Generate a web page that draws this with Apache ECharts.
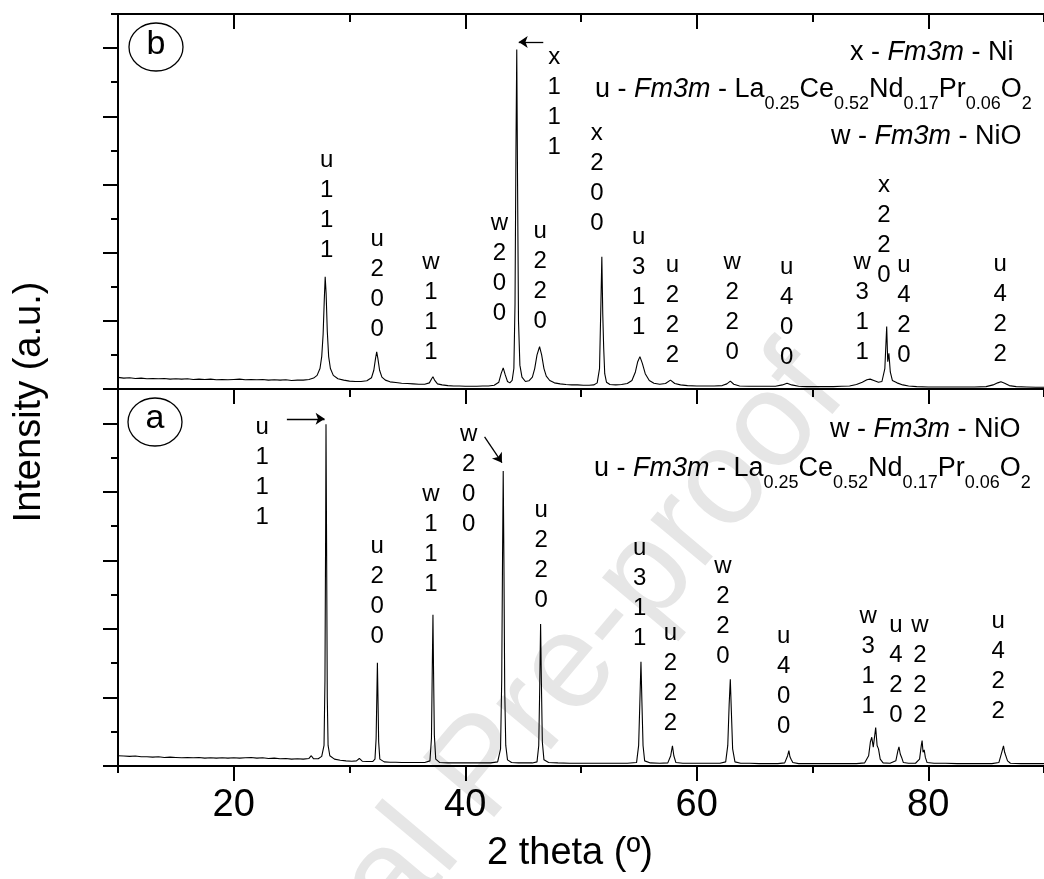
<!DOCTYPE html>
<html>
<head>
<meta charset="utf-8">
<script src="https://cdn.jsdelivr.net/npm/echarts@6.0.0/dist/echarts.min.js"></script>
<style>html,body{margin:0;padding:0;background:#fff;}#c{width:1044px;height:879px;}</style>
</head>
<body>
<div id="c"></div>
<script>
// ---------------- data ----------------
// panel (b): [2theta, intensity a.u.]
const patternB = [
[10.0,0.34],[10.5,0.32],[11.0,0.33],[11.5,0.31],[12.0,0.32],[12.5,0.30],[13.0,0.31],[13.5,0.30],[14.0,0.31],[14.5,0.29],[15.0,0.30],[15.5,0.29],[16.0,0.30],[16.5,0.28],[17.0,0.29],[17.5,0.28],[18.0,0.29],[18.5,0.27],[19.0,0.28],[19.5,0.27],[20.0,0.28],[20.5,0.29],[21.0,0.27],[21.5,0.28],[22.0,0.27],[22.5,0.28],[23.0,0.26],[23.5,0.27],[24.0,0.26],[24.5,0.27],[25.0,0.25],[25.5,0.26],[26.0,0.26],[26.5,0.28],[26.9,0.32],[27.2,0.40],[27.45,0.60],[27.6,0.95],[27.72,1.6],[27.82,2.6],[27.9,3.29],[27.98,2.8],[28.08,1.7],[28.2,0.95],[28.35,0.6],[28.6,0.40],[29.0,0.30],[29.5,0.26],[30.0,0.23],[30.5,0.22],[31.0,0.22],[31.5,0.24],[31.9,0.33],[32.1,0.55],[32.25,0.9],[32.35,1.09],[32.45,0.9],[32.6,0.55],[32.8,0.35],[33.1,0.26],[33.5,0.21],[34.0,0.19],[34.5,0.17],[35.0,0.16],[35.5,0.15],[36.0,0.14],[36.5,0.14],[36.9,0.18],[37.1,0.30],[37.21,0.36],[37.35,0.26],[37.6,0.15],[38.0,0.12],[38.5,0.10],[39.0,0.09],[39.5,0.09],[40.0,0.08],[40.5,0.08],[41.0,0.08],[41.5,0.09],[42.0,0.09],[42.5,0.11],[42.9,0.20],[43.1,0.45],[43.28,0.62],[43.45,0.42],[43.65,0.22],[43.85,0.18],[44.05,0.25],[44.2,0.6],[44.3,2.5],[44.38,7.0],[44.45,9.96],[44.52,6.0],[44.6,2.0],[44.72,0.7],[44.9,0.35],[45.2,0.22],[45.5,0.24],[45.8,0.35],[46.0,0.6],[46.2,1.0],[46.42,1.24],[46.6,1.0],[46.8,0.6],[47.0,0.38],[47.3,0.25],[47.7,0.18],[48.2,0.15],[48.7,0.13],[49.2,0.12],[49.7,0.12],[50.2,0.11],[50.7,0.11],[51.1,0.12],[51.4,0.18],[51.6,0.6],[51.72,2.5],[51.8,3.88],[51.88,2.2],[51.96,1.2],[52.05,0.45],[52.2,0.2],[52.5,0.13],[53.0,0.12],[53.5,0.13],[54.0,0.16],[54.4,0.25],[54.7,0.5],[54.9,0.8],[55.09,0.95],[55.3,0.75],[55.55,0.45],[55.9,0.25],[56.3,0.17],[56.8,0.14],[57.3,0.16],[57.73,0.26],[58.1,0.16],[58.6,0.12],[59.2,0.10],[60.0,0.09],[60.8,0.09],[61.5,0.09],[62.2,0.10],[62.6,0.15],[62.9,0.23],[63.2,0.14],[63.7,0.09],[64.5,0.08],[65.3,0.08],[66.0,0.08],[66.8,0.08],[67.4,0.12],[67.8,0.17],[68.2,0.12],[68.8,0.08],[69.5,0.07],[70.3,0.07],[71.0,0.07],[71.8,0.07],[72.5,0.08],[73.2,0.09],[73.8,0.13],[74.3,0.2],[74.7,0.27],[74.98,0.29],[75.3,0.25],[75.7,0.2],[76.0,0.22],[76.25,0.6],[76.41,1.83],[76.5,0.8],[76.6,1.05],[76.72,0.5],[76.9,0.25],[77.3,0.18],[77.8,0.12],[78.3,0.09],[79.0,0.07],[80.0,0.06],[81.0,0.06],[82.0,0.06],[83.0,0.06],[84.0,0.06],[85.0,0.07],[85.6,0.12],[86.0,0.18],[86.28,0.21],[86.6,0.17],[87.0,0.1],[87.6,0.07],[88.5,0.06],[89.3,0.05],[90.0,0.05]
];
// panel (a)
const patternA = [
[10.0,0.30],[10.5,0.29],[11.0,0.28],[11.5,0.29],[12.0,0.27],[12.5,0.27],[13.0,0.26],[13.5,0.27],[14.0,0.25],[14.5,0.26],[15.0,0.25],[15.5,0.24],[16.0,0.25],[16.5,0.24],[17.0,0.25],[17.5,0.23],[18.0,0.24],[18.5,0.23],[19.0,0.24],[19.5,0.23],[20.0,0.24],[20.5,0.23],[21.0,0.24],[21.5,0.25],[22.0,0.23],[22.5,0.24],[23.0,0.22],[23.5,0.23],[24.0,0.21],[24.5,0.22],[25.0,0.20],[25.5,0.21],[26.0,0.20],[26.5,0.22],[26.7,0.30],[26.9,0.21],[27.3,0.21],[27.6,0.28],[27.8,0.6],[27.88,2.5],[27.94,7.0],[27.97,9.97],[28.02,6.5],[28.08,2.0],[28.15,0.6],[28.3,0.3],[28.7,0.2],[29.2,0.17],[29.7,0.15],[30.2,0.14],[30.6,0.15],[30.85,0.22],[31.1,0.14],[31.5,0.13],[32.0,0.13],[32.2,0.2],[32.3,0.8],[32.36,2.0],[32.41,3.01],[32.46,2.0],[32.52,0.7],[32.62,0.2],[33.0,0.12],[33.5,0.11],[34.0,0.11],[34.5,0.10],[35.0,0.10],[35.5,0.10],[36.0,0.10],[36.5,0.10],[36.95,0.15],[37.08,0.8],[37.15,2.8],[37.21,4.41],[37.26,2.8],[37.33,0.9],[37.45,0.2],[37.8,0.1],[38.5,0.09],[39.2,0.09],[40.0,0.09],[40.8,0.09],[41.5,0.09],[42.2,0.09],[42.8,0.12],[43.05,0.5],[43.15,2.5],[43.22,6.0],[43.28,8.61],[43.34,6.0],[43.41,2.2],[43.5,0.6],[43.65,0.18],[44.0,0.1],[44.6,0.09],[45.2,0.09],[45.8,0.09],[46.2,0.12],[46.35,0.6],[46.43,2.2],[46.51,4.14],[46.58,2.4],[46.66,0.7],[46.8,0.18],[47.2,0.1],[48.0,0.09],[49.0,0.08],[50.0,0.08],[51.0,0.08],[52.0,0.08],[53.0,0.08],[54.0,0.08],[54.8,0.1],[54.98,0.6],[55.08,1.8],[55.18,3.04],[55.26,1.9],[55.36,0.6],[55.5,0.15],[56.0,0.09],[56.8,0.08],[57.5,0.09],[57.75,0.3],[57.9,0.59],[58.02,0.3],[58.2,0.1],[58.8,0.08],[59.6,0.08],[60.5,0.08],[61.3,0.08],[62.0,0.08],[62.5,0.12],[62.68,0.6],[62.8,1.8],[62.9,2.53],[62.99,1.6],[63.1,0.5],[63.3,0.12],[63.8,0.08],[64.6,0.08],[65.4,0.07],[66.2,0.07],[67.0,0.07],[67.6,0.09],[67.85,0.3],[67.96,0.45],[68.05,0.27],[68.15,0.2],[68.3,0.1],[68.8,0.07],[69.8,0.07],[70.8,0.07],[71.8,0.07],[72.8,0.07],[73.8,0.07],[74.5,0.09],[74.85,0.3],[75.0,0.7],[75.12,0.84],[75.25,0.55],[75.38,0.9],[75.46,1.12],[75.58,0.6],[75.7,0.5],[75.85,0.2],[76.1,0.09],[76.7,0.08],[77.2,0.15],[77.38,0.45],[77.47,0.56],[77.58,0.35],[77.7,0.25],[77.85,0.1],[78.3,0.08],[78.9,0.08],[79.25,0.2],[79.4,0.6],[79.47,0.74],[79.55,0.4],[79.65,0.47],[79.75,0.25],[79.9,0.1],[80.5,0.08],[81.5,0.08],[82.5,0.07],[83.5,0.07],[84.5,0.07],[85.5,0.07],[86.1,0.1],[86.35,0.4],[86.5,0.59],[86.6,0.4],[86.72,0.38],[86.85,0.15],[87.1,0.08],[88.0,0.07],[89.0,0.07],[90.0,0.07]
];
// peak labels: [2theta, top of label (a.u.), text]
const labelsB = [
[28.03,7.16,'u\n1\n1\n1'],[32.40,4.84,'u\n2\n0\n0'],[37.04,4.14,'w\n1\n1\n1'],[42.96,5.31,'w\n2\n0\n0'],
[47.68,10.18,'x\n1\n1\n1'],[46.48,5.05,'u\n2\n2\n0'],[51.37,7.95,'x\n2\n0\n0'],[54.98,4.90,'u\n3\n1\n1'],
[57.90,4.08,'u\n2\n2\n2'],[63.05,4.14,'w\n2\n2\n0'],[67.77,4.02,'u\n4\n0\n0'],[74.29,4.14,'w\n3\n1\n1'],
[76.18,6.42,'x\n2\n2\n0'],[77.90,4.08,'u\n4\n2\n0'],[86.22,4.11,'u\n4\n2\n2']
];
const labelsA = [
[22.45,10.33,'u\n1\n1\n1'],[32.40,6.85,'u\n2\n0\n0'],[37.04,8.37,'w\n1\n1\n1'],[40.30,10.10,'w\n2\n0\n0'],
[46.57,7.91,'u\n2\n2\n0'],[55.06,6.80,'u\n3\n1\n1'],[57.73,4.32,'u\n2\n2\n2'],[62.27,6.27,'w\n2\n2\n0'],
[67.51,4.23,'u\n4\n0\n0'],[74.81,4.81,'w\n3\n1\n1'],[77.21,4.55,'u\n4\n2\n0'],[79.27,4.55,'w\n2\n2\n2'],
[86.05,4.67,'u\n4\n2\n2']
];
// arrows: [[from x,y],[to x,y]]
const arrowsB = [[[46.74,10.18],[44.62,10.18]]];
const arrowsA = [[[24.59,10.13],[27.85,10.13]],[[41.67,9.60],[43.17,8.85]]];
// ticks
const xMajor = [20,40,60,80];
const xMinor = [10,30,50,70,90];
const yMajor = [0,2,4,6,8,10];
const yMinor = [1,3,5,7,9,11];
// texts
const phaseNi  = [['x - ','n'],['Fm3m','i'],[' - Ni','n']];
const phaseU   = [['u - ','n'],['Fm3m','i'],[' - La','n'],['0.25','s'],['Ce','n'],['0.52','s'],['Nd','n'],['0.17','s'],['Pr','n'],['0.06','s'],['O','n'],['2','s']];
const phaseNiO = [['w - ','n'],['Fm3m','i'],[' - NiO','n']];
const yTitle = 'Intensity (a.u.)';
const xTitle = '2 theta (º)';
const watermark = 'Journal Pre-proof';

// ---------------- layout ----------------
const FAM = '"Liberation Sans", Arial, Helvetica, sans-serif';
const mctx = document.createElement('canvas').getContext('2d');
const MAIN = 27, SUB = 18, SUBDY = 14;
function formula(parts, left, mid) {
  let x = left; const els = [];
  parts.forEach(([t, k]) => {
    const size = k === 's' ? SUB : MAIN;
    const fs = k === 'i' ? 'italic' : 'normal';
    mctx.font = fs + ' ' + size + 'px ' + FAM;
    const w = mctx.measureText(t).width;
    els.push({type: 'text', x: x, y: mid + (k === 's' ? SUBDY : 0), silent: true,
      style: {text: t, fontSize: size, fontStyle: fs, fontFamily: FAM, fill: '#000', align: 'left', verticalAlign: 'middle'}});
    x += w;
  });
  return els;
}

const chart = echarts.init(document.getElementById('c'), null, {renderer: 'canvas'});
const axLine = {lineStyle: {color: '#000', width: 2}};
function xAx(grid, pos, opts) {
  return Object.assign({type: 'value', gridIndex: grid, position: pos, min: 10, max: 90,
    splitLine: {show: false}, axisLabel: {show: false},
    axisLine: {show: false, onZero: false}, axisTick: {show: false}}, opts);
}
function yAx(grid, opts) {
  return Object.assign({type: 'value', gridIndex: grid, position: 'left', min: 0, max: 11,
    splitLine: {show: false}, axisLabel: {show: false},
    axisLine: {show: false, onZero: false}, axisTick: {show: false}}, opts);
}
const tickStyle = {color: '#000', width: 2};
const arrowLine = {silent: true, symbol: ['none', 'arrow'], symbolSize: 9, animation: false,
  lineStyle: {color: '#000', width: 1.3, type: 'solid'}, label: {show: false}, emphasis: {disabled: true}};

const baseGraphic = [
  {type: 'text', x: 485, y: 770, rotation: 50 * Math.PI / 180, z: -10, silent: true,
    style: {text: watermark, fontSize: 135, fontFamily: FAM, fill: '#e6e6e6', align: 'center', verticalAlign: 'middle'}},
  {type: 'ellipse', shape: {cx: 156, cy: 47, rx: 27, ry: 24}, silent: true,
    style: {fill: 'none', stroke: '#000', lineWidth: 1.3}},
  {type: 'text', x: 156, y: 45, silent: true,
    style: {text: 'b', fontSize: 34, fontFamily: FAM, fill: '#000', align: 'center', verticalAlign: 'middle'}},
  {type: 'ellipse', shape: {cx: 155, cy: 422, rx: 27, ry: 24}, silent: true,
    style: {fill: 'none', stroke: '#000', lineWidth: 1.3}},
  {type: 'text', x: 155, y: 419, silent: true,
    style: {text: 'a', fontSize: 34, fontFamily: FAM, fill: '#000', align: 'center', verticalAlign: 'middle'}},
  {type: 'text', x: 30, y: 402, rotation: Math.PI / 2, silent: true,
    style: {text: yTitle, fontSize: 38, fontFamily: FAM, fill: '#000', align: 'center', verticalAlign: 'middle'}},
  {type: 'text', x: 570, y: 854, silent: true,
    style: {text: xTitle, fontSize: 38, fontFamily: FAM, fill: '#000', align: 'center', verticalAlign: 'middle'}}
].concat(formula(phaseNi, 850, 52.5))
 .concat(formula(phaseU, 595, 89.8))
 .concat(formula(phaseNiO, 831, 136.5))
 .concat(formula(phaseNiO, 830, 429.8))
 .concat(formula(phaseU, 594, 468.8));

const option = {
  animation: false,
  textStyle: {fontFamily: FAM},
  grid: [
    {left: 118, top: 14, width: 932, height: 375},
    {left: 118, top: 389, width: 932, height: 377}
  ],
  xAxis: [
    xAx(0, 'bottom', {axisLine: Object.assign({show: true, onZero: false}, axLine)}),
    xAx(0, 'top', {axisLine: Object.assign({show: true, onZero: false}, axLine),
      axisTick: {show: true, inside: true, length: 15, customValues: xMajor, lineStyle: tickStyle}}),
    xAx(0, 'top', {axisTick: {show: true, inside: true, length: 8, customValues: xMinor, lineStyle: tickStyle}}),
    xAx(1, 'bottom', {axisLine: Object.assign({show: true, onZero: false}, axLine),
      axisTick: {show: true, inside: false, length: 15, customValues: xMajor, lineStyle: tickStyle},
      axisLabel: {show: true, customValues: xMajor, fontSize: 38, color: '#000', margin: 21, fontFamily: FAM}}),
    xAx(1, 'bottom', {axisTick: {show: true, inside: false, length: 7, customValues: xMinor, lineStyle: tickStyle}}),
    xAx(1, 'top', {axisLine: Object.assign({show: true, onZero: false}, axLine),
      axisTick: {show: true, inside: true, length: 15, customValues: xMajor, lineStyle: tickStyle}}),
    xAx(1, 'top', {axisTick: {show: true, inside: true, length: 8, customValues: xMinor, lineStyle: tickStyle}})
  ],
  yAxis: [
    yAx(0, {axisLine: Object.assign({show: true, onZero: false}, axLine),
      axisTick: {show: true, inside: false, length: 15, customValues: yMajor, lineStyle: tickStyle}}),
    yAx(0, {axisTick: {show: true, inside: false, length: 7, customValues: yMinor, lineStyle: tickStyle}}),
    yAx(1, {axisLine: Object.assign({show: true, onZero: false}, axLine),
      axisTick: {show: true, inside: false, length: 15, customValues: yMajor, lineStyle: tickStyle}}),
    yAx(1, {axisTick: {show: true, inside: false, length: 7, customValues: yMinor, lineStyle: tickStyle}})
  ],
  series: [
    {type: 'line', xAxisIndex: 0, yAxisIndex: 0, data: patternB, showSymbol: false, symbol: 'none',
      lineStyle: {color: '#000', width: 1.1}, z: 3,
      markLine: Object.assign({data: arrowsB.map(a => [{coord: a[0]}, {coord: a[1]}])}, arrowLine)},
    {type: 'line', xAxisIndex: 3, yAxisIndex: 2, data: patternA, showSymbol: false, symbol: 'none',
      lineStyle: {color: '#000', width: 1.1}, z: 3,
      markLine: Object.assign({data: arrowsA.map(a => [{coord: a[0]}, {coord: a[1]}])}, arrowLine)}
  ],
  graphic: {elements: baseGraphic}
};
chart.setOption(option);

// peak labels placed through the axes' own scales
function peakLabels(list, xi, yi) {
  return list.map(([x, y, t]) => {
    const p = chart.convertToPixel({xAxisIndex: xi, yAxisIndex: yi}, [x, y]);
    return {type: 'text', x: p[0], y: p[1], silent: true, z: 5,
      style: {text: t, fontSize: 24, lineHeight: 30, fontFamily: FAM, fill: '#000', align: 'center', verticalAlign: 'top'}};
  });
}
option.graphic = {elements: baseGraphic.concat(peakLabels(labelsB, 0, 0)).concat(peakLabels(labelsA, 3, 2))};
chart.setOption(option, true);
</script>
</body>
</html>
